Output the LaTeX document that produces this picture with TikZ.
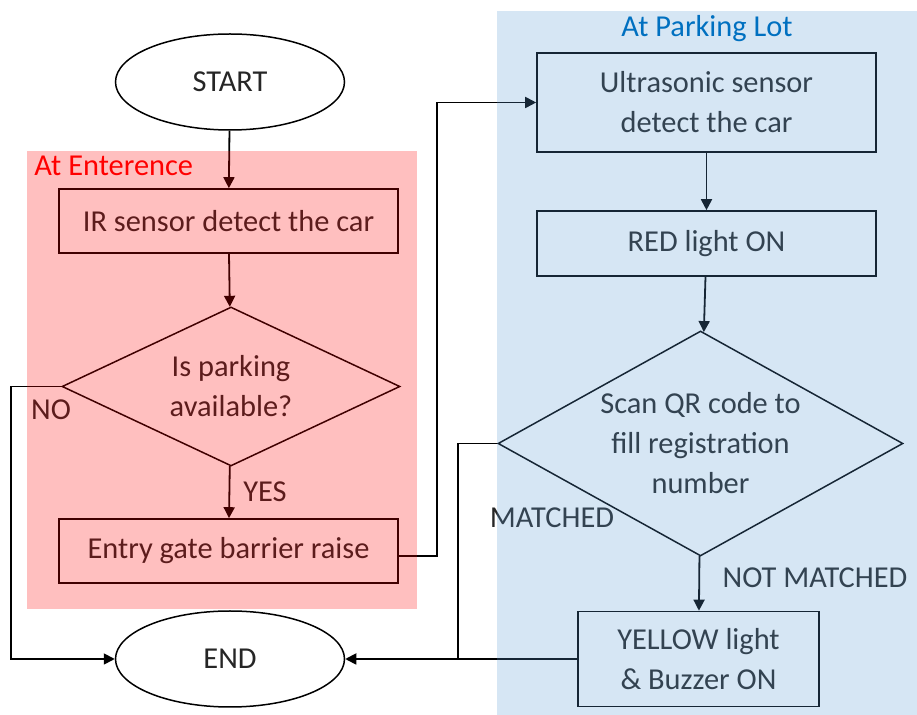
\documentclass[tikz,border=0pt]{standalone}
\usepackage{fontspec}
\setmainfont{Carlito}
\usetikzlibrary{shapes.geometric,arrows.meta,calc}
\definecolor{txt}{RGB}{38,38,38}
\definecolor{redov}{RGB}{255,0,0}
\definecolor{blueov}{RGB}{91,155,213}
\definecolor{bluelbl}{RGB}{0,112,192}
\begin{document}
\begin{tikzpicture}[x=0.5pt,y=-0.5pt,
  every node/.style={font=\fontsize{15.2}{20}\selectfont, text=txt},
  term/.style={ellipse, draw=black, line width=0.75pt, fill=white, minimum width=114.5pt, minimum height=48pt, inner sep=0pt},
  procbox/.style={rectangle, draw=black, line width=0.8pt, align=center, inner sep=0pt},
  decis/.style={diamond, draw=black, line width=0.75pt, align=center, inner sep=0pt},
  conn/.style={draw=black, line width=0.9pt},
  arr/.style={conn, -{Triangle[width=5.5pt,length=5.5pt]}},
  lbl/.style={inner sep=0pt}
]
\useasboundingbox (0,0) rectangle (917,715);
% nodes
\node[term] (start) at (230,82) {START};
\node[procbox, minimum width=169.5pt, minimum height=32pt] (ir) at (228.5,221) {IR sensor detect the car};
\node[decis, minimum width=169pt, minimum height=79.5pt, aspect=2.1] (dia1) at (231,386.5) {Is parking\\available?};
\node[procbox, minimum width=169.5pt, minimum height=32pt] (entry) at (228.5,551) {Entry gate barrier raise};
\node[term] (endn) at (230,659) {END};
\node[procbox, minimum width=169.5pt, minimum height=49.5pt] (ultra) at (706.5,102.5) {Ultrasonic sensor\\detect the car};
\node[procbox, minimum width=169.5pt, minimum height=32.5pt] (redl) at (706.5,243.5) {RED light ON};
\node[decis, minimum width=202.5pt, minimum height=112.5pt, aspect=1.8] (dia2) at (700.5,443.5) {Scan QR code to\\fill registration\\number};
\node[procbox, minimum width=120.5pt, minimum height=47.5pt] (yel) at (698.5,659) {YELLOW light\\\& Buzzer ON};
% labels
\node[lbl] (no) at (51,410) {NO};
\node[lbl] (yes) at (265,492) {YES};
\node[lbl] (matched) at (552,518) {MATCHED};
\node[lbl] (notmatched) at (815,578) {NOT MATCHED};
% connectors
\coordinate (noturn) at (11,386.5);
\coordinate (upturn) at (437,556);
\coordinate (mturn) at (458,443.5);
\draw[arr] (start) -- (ir);
\draw[arr] (ir) -- (dia1);
\draw[arr] (dia1) -- (entry);
\draw[arr] (dia1.west) -- (noturn) |- (endn.west);
\draw[arr] (entry.east |- upturn) -- (upturn) |- (ultra.west);
\draw[arr] (ultra) -- (redl);
\draw[arr] (redl) -- (dia2);
\draw[arr] (dia2) -- (yel);
\draw[conn] (dia2.west) -- (mturn) -- (mturn |- endn);
\draw[arr] (yel.west) -- (endn.east);
% region overlays
\fill[redov, fill opacity=0.25] (27,151) rectangle (417,609);
\fill[blueov, fill opacity=0.25] (497,11) rectangle (917,715);
\node[lbl, anchor=west, text=redov] (enter) at (34,166) {At Enterence};
\node[lbl, text=bluelbl] (plot) at (707,29) {At Parking Lot};
\end{tikzpicture}
\end{document}
